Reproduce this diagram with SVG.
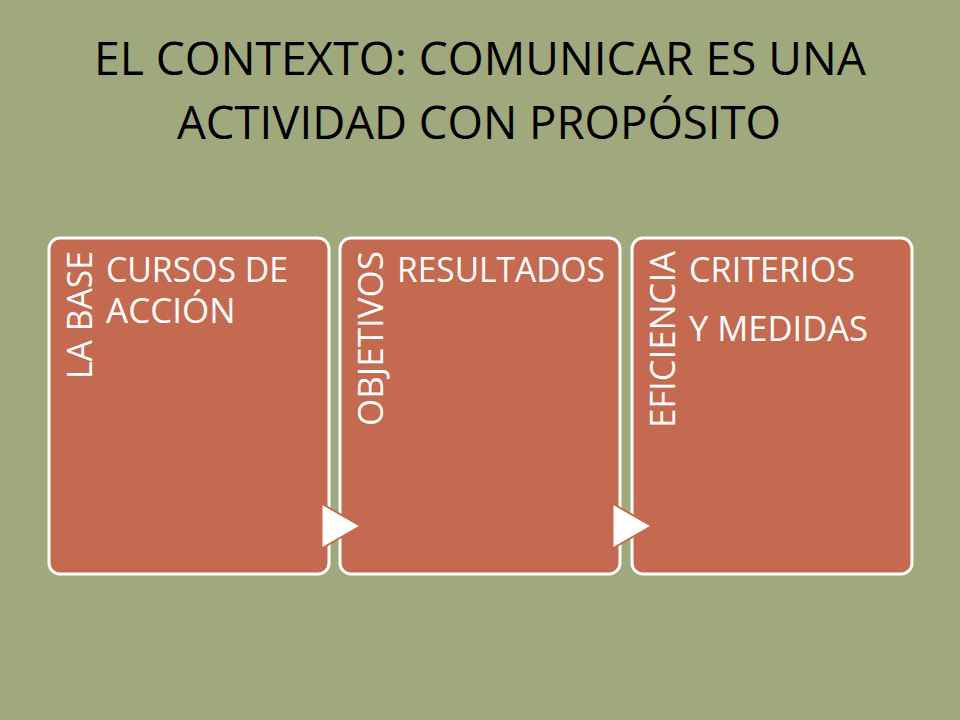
<svg xmlns="http://www.w3.org/2000/svg" width="960" height="720" viewBox="0 0 960 720">
<style>
.title{font-family:"Open Sans","Liberation Sans",sans-serif;font-size:46px;fill:#000}
.box{fill:#c46a51;stroke:#fff;stroke-width:3}
.lbl{font-family:"Open Sans","Liberation Sans",sans-serif;font-size:35px;fill:#fff}
.arrow{fill:#fff;stroke:#c46a51;stroke-width:2;stroke-linejoin:miter}
</style>
<rect width="960" height="720" fill="#a0a87e"/>
<g id="title">
<text class="title" x="480" y="75" text-anchor="middle" textLength="772" lengthAdjust="spacingAndGlyphs">EL CONTEXTO: COMUNICAR ES UNA</text>
<text class="title" x="479" y="139" text-anchor="middle" textLength="604" lengthAdjust="spacingAndGlyphs">ACTIVIDAD CON PROPÓSITO</text>
</g>
<g id="node1">
<rect class="box" x="49" y="238" width="280" height="336" rx="11"/>
<text class="lbl" transform="translate(92,251) rotate(-90)" text-anchor="end" textLength="128" lengthAdjust="spacingAndGlyphs">LA BASE</text>
<text class="lbl" x="106" y="282" textLength="182" lengthAdjust="spacingAndGlyphs">CURSOS DE</text>
<text class="lbl" x="106" y="323">ACCIÓN</text>
</g>
<g id="node2">
<rect class="box" x="340" y="238" width="280" height="336" rx="11"/>
<text class="lbl" transform="translate(383,251) rotate(-90)" text-anchor="end" textLength="175" lengthAdjust="spacingAndGlyphs">OBJETIVOS</text>
<text class="lbl" x="397" y="282" textLength="208" lengthAdjust="spacingAndGlyphs">RESULTADOS</text>
</g>
<g id="node3">
<rect class="box" x="632" y="238" width="280" height="336" rx="11"/>
<text class="lbl" transform="translate(675,251) rotate(-90)" text-anchor="end" textLength="177" lengthAdjust="spacingAndGlyphs">EFICIENCIA</text>
<text class="lbl" x="689" y="282" textLength="166" lengthAdjust="spacingAndGlyphs">CRITERIOS</text>
<text class="lbl" x="689" y="341" textLength="179" lengthAdjust="spacingAndGlyphs">Y MEDIDAS</text>
</g>
<g id="connectors">
<polygon class="arrow" points="321.5,503.5 360.5,526 321.5,548.5"/>
<polygon class="arrow" points="612.5,503.5 651.5,526 612.5,548.5"/>
</g>
</svg>
